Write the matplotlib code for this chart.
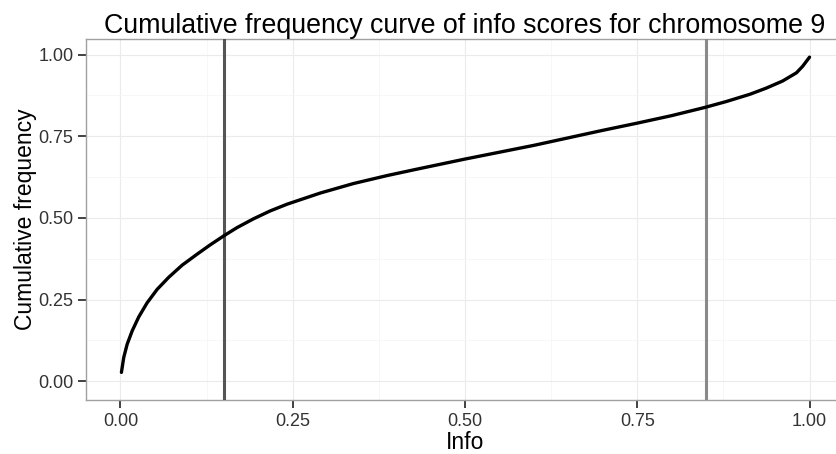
import numpy as np
import matplotlib
matplotlib.use("Agg")
import matplotlib.pyplot as plt
from matplotlib.ticker import MultipleLocator

plt.rcParams['font.family'] = ['Liberation Sans', 'DejaVu Sans']

# Cumulative frequency curve
info = [0.0014, 0.0048, 0.0097, 0.017, 0.0266, 0.0387, 0.0532, 0.07, 0.0894,
        0.111, 0.130, 0.15, 0.169, 0.193, 0.217, 0.242, 0.29, 0.338, 0.387,
        0.43, 0.5, 0.55, 0.6, 0.65, 0.7, 0.75, 0.8, 0.848, 0.879, 0.913,
        0.937, 0.961, 0.981, 0.99, 1.0]
cum_freq = [0.027, 0.073, 0.113, 0.154, 0.197, 0.24, 0.281, 0.318, 0.355,
            0.3885, 0.417, 0.445, 0.470, 0.497, 0.521, 0.542, 0.576, 0.605, 0.6295,
            0.649, 0.680, 0.701, 0.722, 0.745, 0.768, 0.79, 0.813, 0.838, 0.856, 0.878,
            0.897, 0.919, 0.944, 0.964, 0.992]

# Threshold lines
cut_low = 0.15
cut_high = 0.85

x_ticks = [0.0, 0.25, 0.5, 0.75, 1.0]
y_ticks = [0.0, 0.25, 0.5, 0.75, 1.0]

W, H = 837, 454
fig = plt.figure(figsize=(W / 100, H / 100), dpi=100)
ax = fig.add_axes([86 / W, 54 / H, (844 - 86) / W, (400 - 39) / H])

ax.set_xlim(-0.05, 1.05)
ax.set_ylim(-0.0575, 1.0475)

ax.xaxis.set_minor_locator(MultipleLocator(0.125))
ax.yaxis.set_minor_locator(MultipleLocator(0.125))
ax.grid(which='major', color='#ebebeb', linewidth=0.8)
ax.grid(which='minor', color='#f6f6f6', linewidth=0.6)
ax.set_axisbelow(True)

ax.axvline(cut_low, color='#555555', linewidth=2.2, zorder=3)
ax.axvline(cut_high, color='#8a8a8a', linewidth=2.2, zorder=3)
ax.plot(info, cum_freq, color='black', linewidth=2.4, solid_capstyle='round',
        solid_joinstyle='round', zorder=4)

ax.set_xticks(x_ticks)
ax.set_yticks(y_ticks)
ax.set_xticklabels(['%.2f' % v for v in x_ticks])
ax.set_yticklabels(['%.2f' % v for v in y_ticks])
ax.tick_params(which='major', length=6, width=1.3, color='#333333',
               labelcolor='#333333', labelsize=13, pad=3)
ax.tick_params(which='minor', length=0)

for s in ax.spines.values():
    s.set_color('#a0a0a0')
    s.set_linewidth(1.0)

ax.set_xlabel('Info', fontsize=16.5, labelpad=1)
ax.set_ylabel('Cumulative frequency', fontsize=16.5, labelpad=1)
ax.set_title('Cumulative frequency curve of info scores for chromosome 9',
             fontsize=19.3, pad=4)

fig.savefig('out.png', dpi=100)
